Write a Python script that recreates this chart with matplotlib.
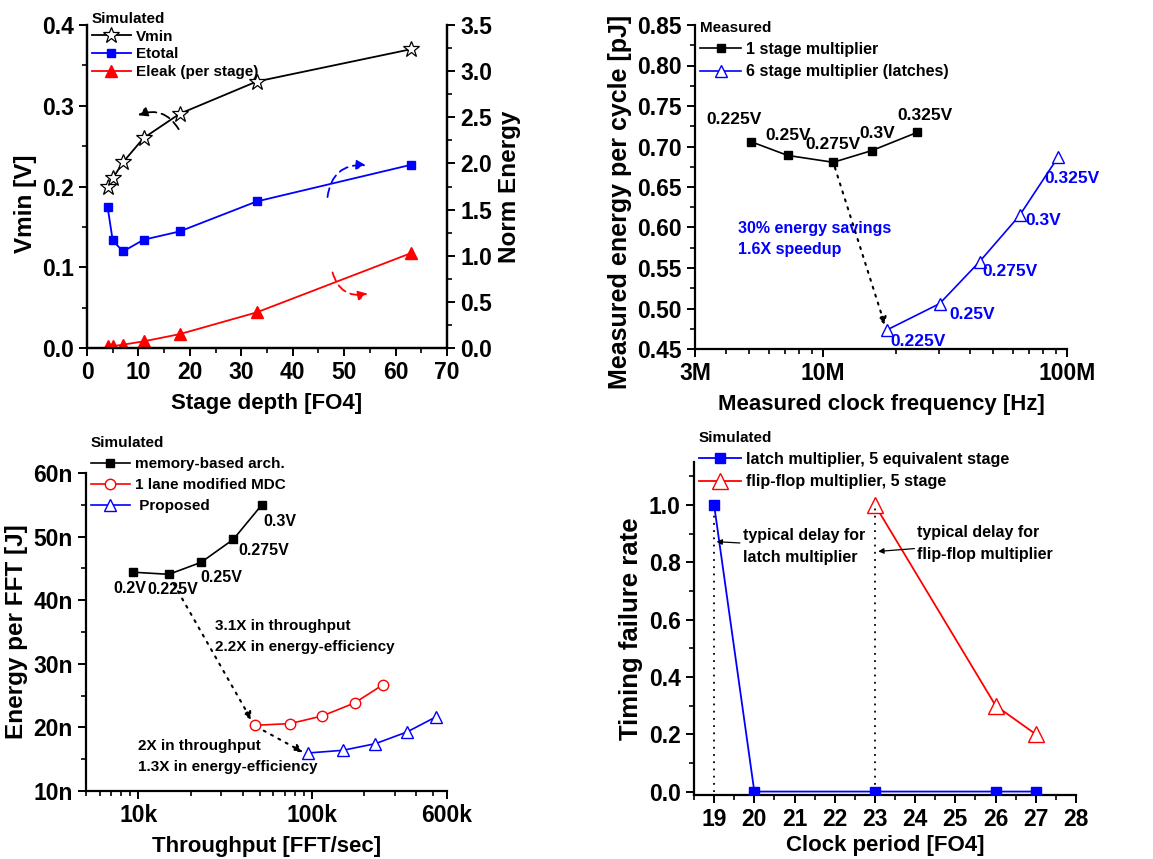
import matplotlib
matplotlib.use('Agg')
import matplotlib.pyplot as plt
from matplotlib.ticker import FixedLocator, FuncFormatter, MultipleLocator, NullFormatter

plt.rcParams['font.family'] = ['Liberation Sans', 'DejaVu Sans']
plt.rcParams['font.weight'] = 'bold'
plt.rcParams['axes.labelweight'] = 'bold'
plt.rcParams['axes.linewidth'] = 1.6
plt.rcParams['xtick.major.width'] = 1.4
plt.rcParams['ytick.major.width'] = 1.4
plt.rcParams['xtick.minor.width'] = 1.2
plt.rcParams['ytick.minor.width'] = 1.2
plt.rcParams['xtick.major.size'] = 6
plt.rcParams['ytick.major.size'] = 6
plt.rcParams['xtick.minor.size'] = 3.5
plt.rcParams['ytick.minor.size'] = 3.5

# ---- panel 1 data: stage depth sweep
depth = [4, 5, 7, 11, 18, 33, 63]
vmin = [0.20, 0.21, 0.23, 0.26, 0.29, 0.33, 0.37]
etotal = [1.53, 1.165, 1.046, 1.173, 1.263, 1.588, 1.985]
eleak = [0.02, 0.02, 0.036, 0.072, 0.15, 0.386, 1.028]

# ---- panel 2 data: measured multipliers
f_1stage = [5.08e6, 7.18e6, 11.04e6, 15.9e6, 24.4e6]
e_1stage = [0.706, 0.689, 0.6805, 0.695, 0.7175]
f_6stage = [18.3e6, 30.1e6, 43.9e6, 64e6, 91.8e6]
e_6stage = [0.4735, 0.506, 0.558, 0.615, 0.6866]
volt_1stage = ['0.225V', '0.25V', '0.275V', '0.3V', '0.325V']
volt_6stage = ['0.225V', '0.25V', '0.275V', '0.3V', '0.325V']

# ---- panel 3 data: FFT energy vs throughput (nJ)
tp_mem = [9.36e3, 15.0e3, 23.0e3, 35.3e3, 51.5e3]
en_mem = [44.4, 44.07, 45.95, 49.57, 55.0]
tp_mdc = [47.1e3, 75e3, 114.8e3, 176e3, 257e3]
en_mdc = [20.33, 20.6, 21.8, 23.84, 26.72]
tp_prop = [94.4e3, 151e3, 232e3, 353e3, 517e3]
en_prop = [15.97, 16.4, 17.44, 19.28, 21.64]
volt_mem = ['0.2V', '0.225V', '0.25V', '0.275V', '0.3V']

# ---- panel 4 data: timing failure
period_latch = [19, 20, 23, 26, 27]
fail_latch = [1.0, 0.0, 0.0, 0.0, 0.0]
period_ff = [23, 26, 27]
fail_ff = [1.0, 0.3, 0.2]

W, H = 1153, 859
fig = plt.figure(figsize=(W / 100, H / 100), dpi=100)


def px_axes(l, t, r, b):
    return fig.add_axes([l / W, 1 - b / H, (r - l) / W, (b - t) / H])


def add_legend(ax, anchor_y, fs, hl, sp, handles=None, labels=None, title='Simulated'):
    args = [] if handles is None else [handles, labels]
    leg = ax.legend(*args, title=title, loc='upper left',
                    bbox_to_anchor=(0.0, anchor_y), frameon=False,
                    prop=dict(weight='bold', size=fs),
                    handlelength=hl, handletextpad=0.3, labelspacing=sp,
                    borderaxespad=0.0, borderpad=0.3, alignment='left')
    leg.get_title().set_fontproperties(dict(weight='bold', size=11))
    return leg


TICK_FS = 16.5
XLAB_FS = 16
YLAB_FS = 17.5

# ================= panel 1
ax1 = px_axes(87, 25, 447, 348)
ax1r = ax1.twinx()
ln1, = ax1.plot(depth, vmin, color='black', lw=1.3, marker='*', ms=12,
                mfc='white', mec='black', mew=0.9, zorder=3)
ln2, = ax1r.plot(depth, etotal, color='blue', lw=1.3, marker='s', ms=6)
ln3, = ax1r.plot(depth, eleak, color='red', lw=1.3, marker='^', ms=8.5)
ax1.set_xlim(0, 70)
ax1.set_ylim(0, 0.4)
ax1r.set_ylim(0, 3.5)
ax1.xaxis.set_major_locator(MultipleLocator(10))
ax1.xaxis.set_minor_locator(MultipleLocator(5))
ax1.yaxis.set_major_locator(MultipleLocator(0.1))
ax1.yaxis.set_minor_locator(MultipleLocator(0.05))
ax1r.yaxis.set_major_locator(MultipleLocator(0.5))
ax1r.yaxis.set_minor_locator(MultipleLocator(0.25))
ax1.spines['top'].set_visible(False)
ax1r.spines['top'].set_visible(False)
ax1.set_xlabel('Stage depth [FO4]', fontsize=XLAB_FS, labelpad=6)
ax1.set_ylabel('Vmin [V]', fontsize=YLAB_FS)
ax1.yaxis.set_label_coords(-0.14, 0.446)
ax1r.set_ylabel('Norm Energy', fontsize=YLAB_FS, labelpad=4)
for a in (ax1, ax1r):
    a.tick_params(which='both', direction='out', labelsize=TICK_FS)
add_legend(ax1, 1.055, 11, 2.6, 0.25, [ln1, ln2, ln3],
           ['Vmin', 'Etotal', 'Eleak (per stage)'])
dash_arrow = dict(arrowstyle='-|>', linestyle=(0, (5, 3)), lw=1.3,
                  mutation_scale=14)
ax1r.annotate('', xy=(9.4, 0.287 * 8.75), xytext=(18.1, 0.268 * 8.75),
              arrowprops=dict(color='black', connectionstyle='arc3,rad=0.45',
                              **dash_arrow))
ax1r.annotate('', xy=(54.8, 1.977), xytext=(46.7, 1.606),
              arrowprops=dict(color='blue', connectionstyle='arc3,rad=-0.5',
                              **dash_arrow))
ax1r.annotate('', xy=(55.1, 0.595), xytext=(47.6, 0.848),
              arrowprops=dict(color='red', connectionstyle='arc3,rad=0.5',
                              **dash_arrow))

# ================= panel 2
ax2 = px_axes(695, 25, 1067, 349)
ax2.plot(f_1stage, e_1stage, color='black', lw=1.2, marker='s', ms=6,
         label='1 stage multiplier')
ax2.plot(f_6stage, e_6stage, color='blue', lw=1.2, marker='^', ms=9,
         mfc='white', mec='blue', label='6 stage multiplier (latches)')
ax2.set_xscale('log')
ax2.set_xlim(3e6, 1e8)
ax2.set_ylim(0.45, 0.85)
ax2.xaxis.set_major_locator(FixedLocator([3e6, 1e7, 1e8]))
ax2.xaxis.set_major_formatter(FuncFormatter(lambda v, p: '%dM' % round(v / 1e6)))
ax2.xaxis.set_minor_locator(FixedLocator([4e6, 5e6, 6e6, 7e6, 8e6, 9e6] +
                                         [k * 1e7 for k in range(2, 10)]))
ax2.xaxis.set_minor_formatter(NullFormatter())
ax2.yaxis.set_major_locator(MultipleLocator(0.05))
ax2.yaxis.set_minor_locator(MultipleLocator(0.025))
ax2.yaxis.set_major_formatter(FuncFormatter(lambda v, p: '%.2f' % v))
ax2.spines['top'].set_visible(False)
ax2.spines['right'].set_visible(False)
ax2.tick_params(which='both', direction='out', labelsize=TICK_FS)
ax2.set_xlabel('Measured clock frequency [Hz]', fontsize=XLAB_FS, labelpad=6)
ax2.set_ylabel('Measured energy per cycle [pJ]', fontsize=18)
ax2.yaxis.set_label_coords(-0.17, 0.455)
add_legend(ax2, 1.028, 11.5, 2.6, 0.45, title='Measured')
lab_1 = [(4.33e6, 0.733), (7.22e6, 0.713), (11.04e6, 0.702), (16.7e6, 0.716),
         (26.1e6, 0.738)]
for (x, y), t in zip(lab_1, volt_1stage):
    ax2.text(x, y, t, fontsize=12.5, ha='center', va='center', color='black')
lab_6 = [(24.5e6, 0.459), (41.1e6, 0.492), (58.5e6, 0.5455), (79.6e6, 0.6084),
         (105e6, 0.661)]
for (x, y), t in zip(lab_6, volt_6stage):
    ax2.text(x, y, t, fontsize=12.5, ha='center', va='center', color='blue')
ax2.text(4.51e6, 0.586, '30% energy savings\n1.6X speedup', fontsize=11.5,
         color='blue', ha='left', va='center', linespacing=1.55)
ax2.annotate('', xy=(18.0e6, 0.479), xytext=(f_1stage[2], e_1stage[2]),
             arrowprops=dict(arrowstyle='-|>', linestyle=(0, (1, 3)), lw=1.5,
                             color='black', mutation_scale=12, shrinkA=4,
                             shrinkB=0))

# ================= panel 3
ax3 = px_axes(86, 473, 447, 791)
ax3.plot(tp_mem, en_mem, color='black', lw=1.2, marker='s', ms=6,
         label='memory-based arch.')
ax3.plot(tp_mdc, en_mdc, color='red', lw=1.2, marker='o', ms=7.5, mfc='white',
         mec='red', label='1 lane modified MDC')
ax3.plot(tp_prop, en_prop, color='blue', lw=1.2, marker='^', ms=9, mfc='white',
         mec='blue', label=' Proposed')
ax3.set_xscale('log')
ax3.set_xlim(5e3, 6e5)
ax3.set_ylim(10, 60)
ax3.xaxis.set_major_locator(FixedLocator([1e4, 1e5, 6e5]))
ax3.xaxis.set_major_formatter(FuncFormatter(lambda v, p: '%dk' % round(v / 1e3)))
ax3.xaxis.set_minor_locator(FixedLocator([k * 1e3 for k in range(5, 10)] +
                                         [k * 1e4 for k in range(2, 10)] +
                                         [k * 1e5 for k in range(2, 6)]))
ax3.xaxis.set_minor_formatter(NullFormatter())
ax3.yaxis.set_major_locator(MultipleLocator(10))
ax3.yaxis.set_minor_locator(MultipleLocator(5))
ax3.yaxis.set_major_formatter(FuncFormatter(lambda v, p: '%dn' % round(v)))
ax3.spines['top'].set_visible(False)
ax3.spines['right'].set_visible(False)
ax3.tick_params(which='both', direction='out', labelsize=TICK_FS)
ax3.set_xlabel('Throughput [FFT/sec]', fontsize=XLAB_FS, labelpad=6)
ax3.set_ylabel('Energy per FFT [J]', fontsize=YLAB_FS, labelpad=4)
add_legend(ax3, 1.13, 11, 2.6, 0.45)
lab_3 = [(8.95e3, 41.8), (15.9e3, 41.66), (29.9e3, 43.5), (52.6e3, 47.8),
         (65e3, 52.4)]
for (x, y), t in zip(lab_3, volt_mem):
    ax3.text(x, y, t, fontsize=11.5, ha='center', va='center')
ax3.text(27.7e3, 34.3, '3.1X in throughput\n2.2X in energy-efficiency',
         fontsize=11, ha='left', va='center', linespacing=1.6)
ax3.text(10e3, 15.4, '2X in throughput\n1.3X in energy-efficiency',
         fontsize=11, ha='left', va='center', linespacing=1.6)
dot_arrow = dict(arrowstyle='-|>', linestyle=(0, (1, 3)), lw=1.5,
                 color='black', mutation_scale=12, shrinkA=3, shrinkB=0)
ax3.annotate('', xy=(45e3, 21.1), xytext=(15.6e3, 43.1), arrowprops=dot_arrow)
ax3.annotate('', xy=(89e3, 16.1), xytext=(50.3e3, 19.8), arrowprops=dot_arrow)

# ================= panel 4
ax4 = px_axes(694, 462, 1076, 795)
ax4.plot(period_latch, fail_latch, color='blue', lw=1.3, marker='s', ms=7.5,
         label='latch multiplier, 5 equivalent stage', zorder=3)
ax4.plot(period_ff, fail_ff, color='red', lw=1.3, marker='^', ms=11,
         mfc='white', mec='red', label='flip-flop multiplier, 5 stage')
ax4.plot([19, 19], [0, 1.0], color='black', lw=1.3, ls=(0, (1, 3)), zorder=2)
ax4.plot([23, 23], [0, 1.0], color='black', lw=1.3, ls=(0, (1, 3)), zorder=2)
ax4.set_xlim(18.5, 28)
ax4.set_ylim(-0.012, 1.15)
ax4.xaxis.set_major_locator(MultipleLocator(1))
ax4.xaxis.set_minor_locator(MultipleLocator(0.5))
ax4.yaxis.set_major_locator(FixedLocator([0, 0.2, 0.4, 0.6, 0.8, 1.0]))
ax4.yaxis.set_minor_locator(FixedLocator([0.1, 0.3, 0.5, 0.7, 0.9, 1.1]))
ax4.yaxis.set_major_formatter(FuncFormatter(lambda v, p: '%.1f' % v))
ax4.spines['top'].set_visible(False)
ax4.spines['right'].set_visible(False)
ax4.tick_params(which='both', direction='out', labelsize=TICK_FS)
ax4.set_xlabel('Clock period [FO4]', fontsize=XLAB_FS, labelpad=3)
ax4.set_ylabel('Timing failure rate', fontsize=18.5, labelpad=4)
add_legend(ax4, 1.108, 11.6, 2.6, 0.45)
thin_arrow = dict(arrowstyle='-|>', lw=0.9, color='black', mutation_scale=8,
                  shrinkA=0, shrinkB=0)
ax4.annotate('typical delay for\nlatch multiplier', xy=(19.06, 0.872),
             xytext=(19.71, 0.855), fontsize=11.5, ha='left',
             va='center', linespacing=1.6, arrowprops=thin_arrow)
ax4.annotate('typical delay for\nflip-flop multiplier', xy=(23.08, 0.838),
             xytext=(24.05, 0.867), fontsize=11.5, ha='left',
             va='center', linespacing=1.6, arrowprops=thin_arrow)

fig.savefig('out.png', dpi=100)
